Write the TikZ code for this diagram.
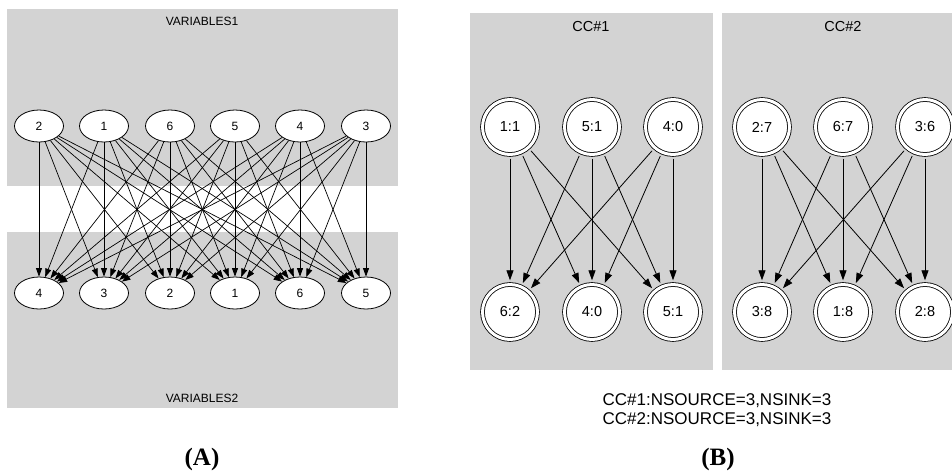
\documentclass[tikz,border=0pt]{standalone}
\usepackage{fontspec}
\setmainfont{Liberation Sans}
\newfontfamily\capfont{Liberation Serif}
\usetikzlibrary{arrows.meta,shapes.geometric}
\definecolor{clustergray}{RGB}{211,211,211}
\begin{document}
\begin{tikzpicture}[x=1pt,y=-1pt,
  cluster/.style={fill=clustergray},
  clabelA/.style={font=\fontsize{12}{14}\selectfont},
  clabelB/.style={font=\fontsize{14.5}{16}\selectfont},
  vnode/.style={ellipse, draw, fill=white, minimum width=49pt, minimum height=32pt,
    inner sep=0pt, line width=0.8pt, font=\fontsize{12}{14}\selectfont},
  ccnode/.style={circle, draw, fill=white, double, double distance=3pt, line width=0.8pt,
    minimum size=55pt, inner sep=0pt, outer sep=4.2pt, font=\fontsize{14.5}{16}\selectfont},
  aedge/.style={-{Triangle[length=8.5pt,width=6pt]}, line width=0.7pt},
  bedge/.style={-{Triangle[length=10pt,width=7pt]}, line width=0.8pt},
  panel/.style={font=\capfont\bfseries\fontsize{25}{27}\selectfont},
  info/.style={font=\fontsize{17}{19}\selectfont, align=center}]
\useasboundingbox (0,0) rectangle (952,472);
% ---------- panel A ----------
\fill[cluster] (7,9) rectangle (398,186);
\fill[cluster] (7,232) rectangle (398,408);
\node[clabelA] (v1lab) at (202,21) {VARIABLES1};
\node[clabelA] (v2lab) at (202,398) {VARIABLES2};
\foreach \n/\x in {2/39,1/104,6/170,5/235,4/300,3/366}
  \node[vnode] (t\n) at (\x,126) {\n};
\foreach \n/\x in {4/39,3/104,2/170,1/235,6/300,5/366}
  \node[vnode] (b\n) at (\x,293) {\n};
\foreach \s in {1,...,6}
  \foreach \d in {1,...,6}
    \draw[aedge] (t\s) -- (b\d);
\node[panel] (plA) at (202,459) {(A)};
% ---------- panel B ----------
\fill[cluster] (470,13) rectangle (713,370);
\fill[cluster] (722,13) rectangle (952,370);
\node[clabelB] (cc1lab) at (591,27) {CC\#1};
\node[clabelB] (cc2lab) at (843,27) {CC\#2};
\node[ccnode] (s11) at (510,127) {1:1};
\node[ccnode] (s12) at (592,127) {5:1};
\node[ccnode] (s13) at (673,127) {4:0};
\node[ccnode] (k11) at (510,312) {6:2};
\node[ccnode] (k12) at (592,312) {4:0};
\node[ccnode] (k13) at (673,312) {5:1};
\node[ccnode] (s21) at (762,127) {2:7};
\node[ccnode] (s22) at (843,127) {6:7};
\node[ccnode] (s23) at (925,127) {3:6};
\node[ccnode] (k21) at (762,312) {3:8};
\node[ccnode] (k22) at (843,312) {1:8};
\node[ccnode] (k23) at (925,312) {2:8};
\foreach \c in {1,2}
  \foreach \s in {1,2,3}
    \foreach \k in {1,2,3}
      \draw[bedge] (s\c\s) -- (k\c\k);
\node[info] (infotxt) at (717,410) {CC\#1:NSOURCE=3,NSINK=3\\CC\#2:NSOURCE=3,NSINK=3};
\node[panel] (plB) at (718,459) {(B)};
\end{tikzpicture}
\end{document}
